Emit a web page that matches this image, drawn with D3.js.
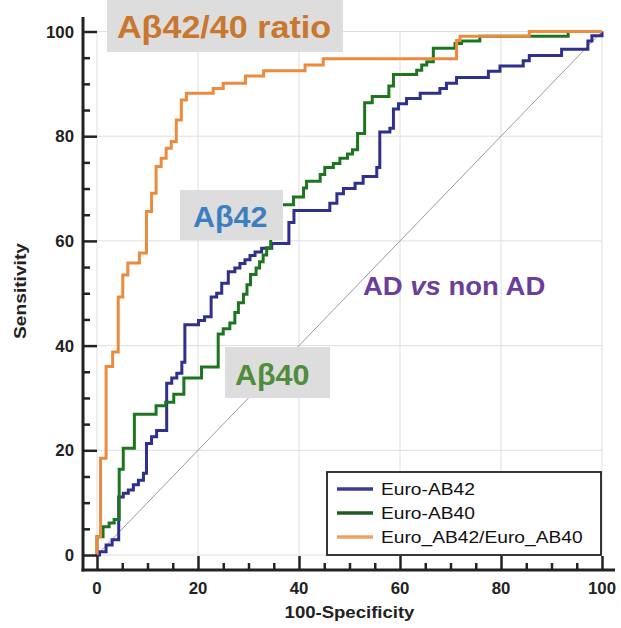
<!DOCTYPE html>
<html>
<head>
<meta charset="utf-8">
<script src="https://cdn.jsdelivr.net/npm/d3@7"></script>
<style>
  body { margin: 0; background: #fff; }
  svg { display: block; }
</style>
</head>
<body>
<svg id="chart" width="621" height="628"></svg>
<script>
// ROC curves, AD vs non AD: [100-specificity, sensitivity] at each step
const ab42Roc = [
  [0, 0], [0.5, 0.6], [1.8, 1.9], [3, 2.9], [4.3, 11.1], [5.2, 11.8], [6.2, 12.4],
  [7.2, 13.4], [8.2, 14.3], [9.2, 15.6], [9.8, 21.3], [10.8, 22.6], [11.8, 23.8],
  [13.8, 32.8], [14.8, 33.8], [15.8, 34.7], [16.8, 36.8], [17.4, 44], [20.1, 44.8],
  [21.3, 45.5], [22.6, 49.3], [23.7, 50], [24.7, 51.9], [26, 54.1], [27.3, 54.8],
  [28.3, 55.7], [29.3, 56.4], [30.3, 57.2], [31.3, 57.9], [32.6, 58.6], [34.6, 59.5],
  [38, 63.5], [39, 65.8], [46.1, 67.2], [47.5, 69], [48.8, 70], [51.1, 71],
  [52.7, 72.3], [55.4, 74], [56, 80.8], [58, 81.5], [58.7, 85.2], [59.7, 86.2],
  [61.3, 87.2], [64, 88.2], [67.9, 89.1], [69.2, 90.1], [71.2, 91.2], [77.5, 92.4],
  [79.8, 93.4], [84.4, 94.4], [85.6, 95.4], [92, 96.6], [97.2, 98.2], [98, 99.2],
  [100, 100]
];
const ab40Roc = [
  [0, 0], [0, 3.5], [1.2, 5.4], [2.4, 6.1], [3.4, 6.8], [4.4, 16.4], [5.2, 20.4],
  [7.4, 26.9], [11.7, 28.5], [13.6, 29.2], [15.2, 30.7], [17.2, 33.8], [20.7, 35.9],
  [24, 42.2], [25, 43.2], [26.3, 44.3], [27.3, 46.3], [28, 48.2], [29, 49.8],
  [29.7, 51.6], [30.4, 53.6], [31.5, 54.8], [32.2, 56], [32.9, 57.3], [33.6, 58.7],
  [34.4, 66.9], [38.9, 68.4], [40.9, 70.1], [41.5, 71.4], [44.2, 72.7], [45.1, 74],
  [46.8, 74.8], [48.1, 75.8], [49.6, 76.6], [50.6, 77.4], [51.6, 80.5], [53, 86.4],
  [54.5, 87.6], [57.8, 89.6], [58.7, 91.8], [63.3, 92.6], [64.3, 93.6], [65.3, 94.2],
  [66.6, 96.8], [70.9, 97.7], [72.2, 98.2], [75.8, 99.1], [93.3, 100], [100, 100]
];
const ratioRoc = [
  [0, 0], [0, 3.5], [0.7, 18.5], [1.8, 36], [3.1, 38.8], [4.2, 49.3], [5.1, 53.5],
  [6.1, 55.8], [8.4, 57.7], [9.8, 65.6], [10.8, 69.1], [11.7, 74.2], [12.7, 75.8],
  [13.7, 77.7], [14.7, 79], [15.7, 83.1], [16.7, 86.9], [17.7, 88.2], [23, 89.1],
  [25, 90.1], [29.4, 91.5], [33, 92.5], [41.2, 93.6], [44.8, 94.8], [71.2, 98.3],
  [71.9, 99.1], [85.6, 100], [100, 100]
];

const seriesNames = ["Euro-AB42", "Euro-AB40", "Euro_AB42/Euro_AB40"];
const seriesColors = ["#2f2f8c", "#1c761f", "#ec8b3e"];
const legendColors = ["#3a3c96", "#1f5a24", "#f0a062"];
const majorTicks = [0, 20, 40, 60, 80, 100];
const minorTicks = d3.range(0, 101, 5).filter(v => v % 20 !== 0);

// curve annotations: label text, colour, whether it sits on a grey panel
const annotations = [
  { text: "Aβ42/40 ratio", color: "#c9762f", box: true },
  { text: "Aβ42", color: "#3c7fc0", box: true },
  { text: "Aβ40", color: "#4f8c3c", box: true },
  { text: "AD vs non AD", color: "#6a3f9c", box: false }
];

const svg = d3.select("#chart");
const font = "'Liberation Sans', Arial, sans-serif";

const x = d3.scaleLinear().domain([0, 100]).range([97, 602]);
const y = d3.scaleLinear().domain([0, 100]).range([555, 31.5]);

// gridlines
const grid = svg.append("g").attr("stroke", "#dedede").attr("stroke-width", 1);
grid.selectAll(".gx").data(majorTicks).join("line")
  .attr("x1", d => x(d)).attr("x2", d => x(d))
  .attr("y1", y(100)).attr("y2", y(0));
grid.selectAll(".gy").data(majorTicks).join("line")
  .attr("x1", x(0)).attr("x2", x(100))
  .attr("y1", d => y(d)).attr("y2", d => y(d));

// reference diagonal
svg.append("line")
  .attr("x1", x(0)).attr("y1", y(0)).attr("x2", x(100)).attr("y2", y(100))
  .attr("stroke", "#9a9a9a").attr("stroke-width", 1);

// ROC step curves
const line = d3.line().x(d => x(d[0])).y(d => y(d[1])).curve(d3.curveStepAfter);
[ab42Roc, ab40Roc, ratioRoc].forEach((pts, i) => {
  svg.append("path").datum(pts)
    .attr("d", line)
    .attr("fill", "none")
    .attr("stroke", seriesColors[i])
    .attr("stroke-width", 3)
    .attr("stroke-linejoin", "miter");
});

// offset axes
const axisColor = "#222";
const xAxisY = 570, yAxisX = 83;
const yAxis = d3.axisRight(y).tickValues(majorTicks).tickSize(14).tickFormat("");
const yAxisMinor = d3.axisRight(y).tickValues(minorTicks).tickSize(7).tickFormat("");
const xAxis = d3.axisTop(x).tickValues(majorTicks).tickSize(14).tickFormat("");
const xAxisMinor = d3.axisTop(x).tickValues(minorTicks).tickSize(7).tickFormat("");

[yAxis, yAxisMinor].forEach(ax => {
  const g = svg.append("g").attr("transform", `translate(${yAxisX},0)`).call(ax);
  g.select(".domain").remove();
  g.selectAll("line").attr("stroke", axisColor).attr("stroke-width", 2.5);
});
[xAxis, xAxisMinor].forEach(ax => {
  const g = svg.append("g").attr("transform", `translate(0,${xAxisY})`).call(ax);
  g.select(".domain").remove();
  g.selectAll("line").attr("stroke", axisColor).attr("stroke-width", 2.5);
});
svg.append("line").attr("x1", yAxisX).attr("x2", yAxisX)
  .attr("y1", 17).attr("y2", xAxisY + 1.5)
  .attr("stroke", axisColor).attr("stroke-width", 3);
svg.append("line").attr("x1", yAxisX - 1.5).attr("x2", 615)
  .attr("y1", xAxisY).attr("y2", xAxisY)
  .attr("stroke", axisColor).attr("stroke-width", 3);

// text helper with a slight horizontal stretch
function label(parent, str, px, py, opts) {
  const g = parent.append("g")
    .attr("transform", `translate(${px},${py})${opts.rotate ? " rotate(-90)" : ""} scale(${opts.sx || 1.15},1)`);
  const t = g.append("text")
    .attr("font-family", font)
    .attr("font-weight", opts.weight || "bold")
    .attr("font-size", opts.size)
    .attr("fill", opts.color || "#222")
    .attr("text-anchor", opts.anchor || "start");
  if (opts.parts) {
    opts.parts.forEach(p => t.append("tspan").attr("font-style", p.italic ? "italic" : "normal").text(p.t));
  } else t.text(str);
  return t;
}

// tick labels
majorTicks.forEach(v => {
  label(svg, String(v), 74, y(v) + 6, { size: 16.5, anchor: "end", sx: 1.02 });
  label(svg, String(v), x(v), 594, { size: 16.5, anchor: "middle", sx: 1.02 });
});
label(svg, "100-Specificity", (x(0) + x(100)) / 2, 618, { size: 16, anchor: "middle", sx: 1.16 });
label(svg, "Sensitivity", 26, 291, { size: 16, anchor: "middle", sx: 1.2, rotate: true });

// legend
const lg = svg.append("g");
lg.append("rect").attr("x", 327).attr("y", 472).attr("width", 274).attr("height", 83)
  .attr("fill", "#fff").attr("stroke", "#222").attr("stroke-width", 1.8);
seriesNames.forEach((name, i) => {
  const cy = 489 + i * 24;
  lg.append("line").attr("x1", 337).attr("x2", 373).attr("y1", cy).attr("y2", cy)
    .attr("stroke", legendColors[i]).attr("stroke-width", 3.5);
  label(lg, name, 381, cy + 5.5, { size: 16, weight: "normal", sx: 1.2, color: "#111" });
});

// annotations on grey panels
const panelSpecs = [
  { rect: [107, 0, 236, 52], tx: 117, ty: 38, size: 31, sx: 1.1 },
  { rect: [180, 190, 103, 50], tx: 193, ty: 227, size: 29, sx: 1.05 },
  { rect: [225, 347, 105, 51], tx: 235, ty: 385, size: 29, sx: 1.05 },
  { rect: [0, 0, 0, 0], tx: 363, ty: 295, size: 25, sx: 1.1 }
];
annotations.forEach((a, i) => {
  const s = panelSpecs[i];
  if (a.box) {
    svg.append("rect").attr("x", s.rect[0]).attr("y", s.rect[1])
      .attr("width", s.rect[2]).attr("height", s.rect[3]).attr("fill", "#dddddd");
  }
  if (a.text === "AD vs non AD") {
    label(svg, a.text, s.tx, s.ty, { size: s.size, sx: s.sx, color: a.color,
      parts: [{ t: "AD " }, { t: "vs", italic: true }, { t: " non AD" }] });
  } else {
    label(svg, a.text, s.tx, s.ty, { size: s.size, sx: s.sx, color: a.color });
  }
});
</script>
</body>
</html>
